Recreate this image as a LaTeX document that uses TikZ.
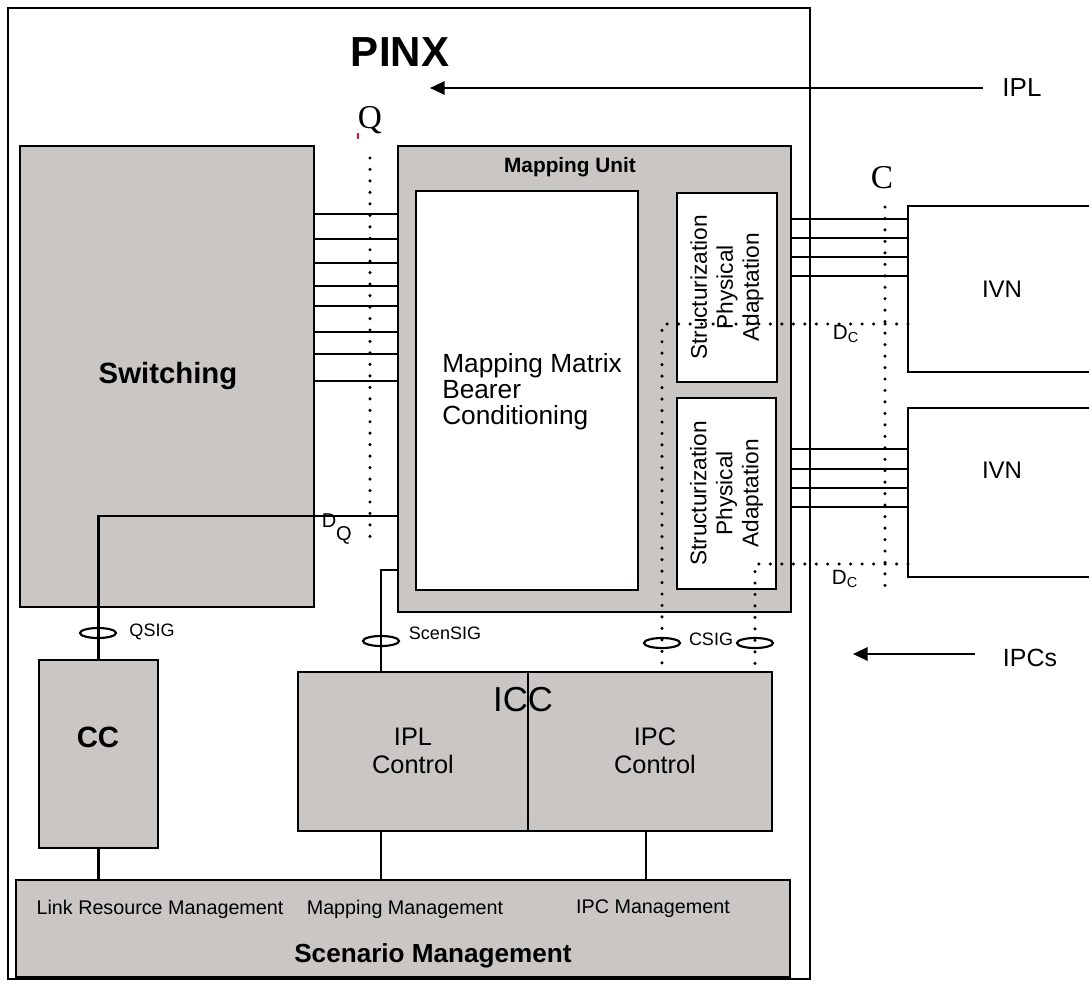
\documentclass[tikz,border=0pt]{standalone}
\usepackage{fontspec}
\setmainfont{Liberation Sans}
\newfontfamily\refletter{Liberation Serif}
\usetikzlibrary{arrows.meta,fit,shapes.geometric}
\definecolor{pinxgray}{HTML}{C9C6C3}
\definecolor{markred}{HTML}{E0102F}
\tikzset{
unit box/.style={draw=black, fill=pinxgray, line width=1.6pt, inner sep=0pt, outer sep=0pt},
white box/.style={draw=black, fill=white, line width=1.6pt, inner sep=0pt, outer sep=0pt},
frame box/.style={draw=black, line width=1.5pt, inner sep=0pt, outer sep=0pt},
open box/.style={inner sep=0pt, outer sep=0pt},
wire/.style={draw=black, line width=1.6pt},
ref line/.style={draw=black, line width=2.6pt, line cap=round, dash pattern=on 0pt off 8.6pt},
sig ring/.style={ellipse, draw=black, line width=1.6pt, minimum width=27pt, minimum height=7.5pt, inner sep=0pt},
fig flow/.style={draw=black, line width=1.6pt, -{Triangle[length=11pt,width=10pt]}},
txt/.style 2 args={font=\fontsize{#1}{#2}\selectfont, inner sep=0pt}
}
\begin{document}
\begin{tikzpicture}[x=0.75pt,y=-0.75pt]
\useasboundingbox (0,0) rectangle (1089,983);
\node[frame box, fit={(8,8)(810,979)}] (pinx) {};
\node[txt={31.5}{36}] (pinxlbl) at (400,52) {\bfseries PINX};
\node[txt={19.5}{22}] (ipllbl) at (1022,88) {IPL};
\coordinate (iplstart) at (983,88);
\coordinate (iplend) at (430,88);
\draw[fig flow] (iplstart) -- (iplend);
\node[txt={25}{28}] (qlbl) at (370,120) {\refletter Q};
\fill[markred] (357,133) rectangle (359,139);
\node[txt={25}{28}] (clbl) at (882,178) {\refletter C};

\node[unit box, fit={(20,146)(314,607)}] (sw) {};
\node[txt={22}{26}] (swlbl) at (168,376) {\bfseries Switching};
\node[unit box, fit={(398,146)(791,612)}] (mu) {};
\node[txt={15.6}{18}] (mulbl) at (570,167) {\bfseries Mapping Unit};
\node[white box, fit={(416,191)(638,590)}] (mmx) {};
\node[txt={19.7}{19.5}, align=left, anchor=west] (mmxlbl) at (442,392) {Mapping Matrix\\Bearer\\Conditioning};
\node[white box, fit={(677,193)(777,382)}] (spa1) {};
\node[white box, fit={(677,398)(776,589)}] (spa2) {};
\node[txt={17}{19.5}, rotate=90, align=center] (spa1lbl) at (spa1) {Structurization\\Physical\\Adaptation};
\node[txt={17}{19.5}, rotate=90, align=center] (spa2lbl) at (spa2) {Structurization\\Physical\\Adaptation};

\foreach \y in {214,239,263,286,306,332,354,381}
  \draw[wire] (sw.east |- 0,\y) -- (mu.west |- 0,\y);

\node[open box, fit={(908,206)(1089,372)}] (ivn1) {};
\node[open box, fit={(908,408)(1089,577)}] (ivn2) {};
\draw[wire] (ivn1.north east) -- (ivn1.north west) -- (ivn1.south west) -- (ivn1.south east);
\draw[wire] (ivn2.north east) -- (ivn2.north west) -- (ivn2.south west) -- (ivn2.south east);
\node[txt={18}{21}] (ivn1lbl) at (1002,289) {IVN};
\node[txt={18}{21}] (ivn2lbl) at (1002,470) {IVN};
\foreach \y in {219,238,257,276}
  \draw[wire] (mu.east |- 0,\y) -- (ivn1.west |- 0,\y);
\foreach \y in {449,469,488,507}
  \draw[wire] (mu.east |- 0,\y) -- (ivn2.west |- 0,\y);

\node[unit box, fit={(39,660)(158,848)}] (cc) {};
\node[txt={22}{26}] (cclbl) at (98,737) {\bfseries CC};
\node[unit box, fit={(298,672)(528,831)}] (iplc) {};
\node[unit box, fit={(528,672)(772,831)}] (ipcc) {};
\node[txt={19}{21}, align=center] (iplclbl) at (413,751) {IPL\\Control};
\node[txt={19}{21}, align=center] (ipcclbl) at (655,751) {IPC\\Control};
\node[txt={26}{30}] (icclbl) at (523,700) {ICC};
\node[unit box, fit={(16,880)(790,977)}] (sm) {};
\node[txt={14.8}{17}] (lrmlbl) at (160,909) {Link Resource Management};
\node[txt={14.8}{17}] (mmlbl) at (405,909) {Mapping Management};
\node[txt={14.8}{17}] (ipcmlbl) at (653,909) {IPC Management};
\node[txt={19.6}{23}] (smlbl) at (433,956) {\bfseries Scenario Management};

\coordinate (qtop) at (370,158);
\coordinate (qbot) at (370,542);
\draw[ref line] (qtop) -- (qbot);
\coordinate (ctop) at (885,207);
\coordinate (cbot) at (885,590);
\draw[ref line] (ctop) -- (cbot);
\draw[ref line] (ivn1.west |- 0,324) -| (ipcc.north -| 662,0);
\draw[ref line] (ivn2.west |- 0,564) -| (ipcc.north -| 755,0);
\node[txt={15.5}{18}] (dc1lbl) at (846,334) {D\textsubscript{C}};
\node[txt={15.5}{18}] (dc2lbl) at (845,579) {D\textsubscript{C}};

\draw[wire] (mu.west |- 0,516) -| (cc.north);
\node[txt={15}{18}] (dqlbl) at (329,521) {D};
\node[txt={15}{18}] (dqsub) at (344,535) {Q};
\draw[wire] (mu.west |- 0,570) -| (iplc.north -| 381,0);
\draw[wire] (cc.south) -- (sm.north -| cc.south);
\draw[wire] (iplc.south -| 381,0) -- (sm.north -| 381,0);
\draw[wire] (ipcc.south -| 646,0) -- (sm.north -| 646,0);

\node[sig ring] (qring) at (98,633) {};
\node[sig ring] (sring) at (381,641) {};
\node[sig ring] (cring1) at (662,643) {};
\node[sig ring] (cring2) at (755,643) {};
\node[txt={13.5}{16}] (qsiglbl) at (152,632) {QSIG};
\node[txt={13.5}{16}] (scensiglbl) at (445,633) {ScenSIG};
\node[txt={13.5}{16}] (csiglbl) at (711,639) {CSIG};

\node[txt={18.7}{22}] (ipcslbl) at (1030,658) {IPCs};
\coordinate (ipcsstart) at (975,654);
\coordinate (ipcsend) at (853,654);
\draw[fig flow] (ipcsstart) -- (ipcsend);
\end{tikzpicture}
\end{document}
